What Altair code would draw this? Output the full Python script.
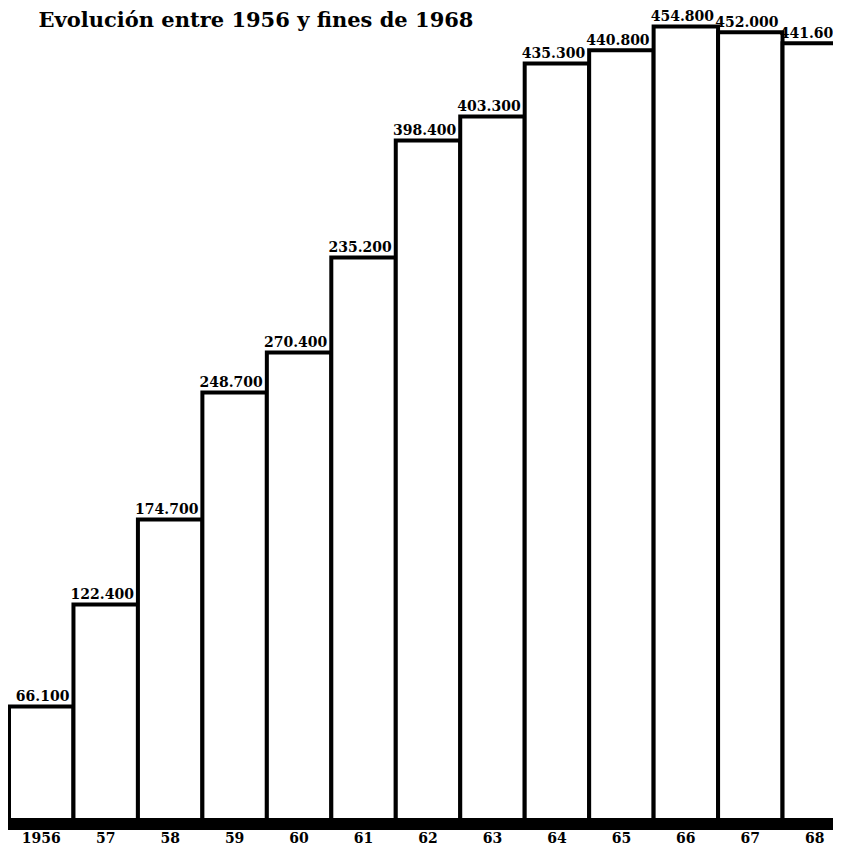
import altair as alt
import pandas as pd

years = ["1956", "57", "58", "59", "60", "61", "62", "63", "64", "65", "66", "67", "68"]
# bar heights (thousands) as drawn in the picture
heights = [66.1, 124.4, 173.0, 245.6, 268.5, 322.8, 389.7, 403.4, 433.7, 441.2, 454.9, 451.5, 445.2]
# printed labels above the bars
labels = ["66.100", "122.400", "174.700", "248.700", "270.400", "235.200", "398.400",
          "403.300", "435.300", "440.800", "454.800", "452.000", "441.600"]

df = pd.DataFrame({"year": years, "height": heights, "label": labels})

FONT = "DejaVu Serif"

x = alt.X("year:N", sort=years,
          scale=alt.Scale(range=[1, 839], paddingInner=0, paddingOuter=0),
          axis=alt.Axis(title=None, domain=False, ticks=False, labelAngle=0,
                        labelFont=FONT, labelFontSize=14, labelFontWeight="bold",
                        labelColor="black", labelPadding=9))
y = alt.Y("height:Q", scale=alt.Scale(domain=[0, 451.7], nice=False), axis=None)

bars = alt.Chart(df).mark_bar(fill="white", stroke="black", strokeWidth=4,
                              strokeJoin="miter").encode(x=x, y=y)

text = alt.Chart(df).mark_text(align="right", baseline="alphabetic", dx=-4, dy=-5,
                               font=FONT, fontSize=14, fontWeight="bold",
                               color="black").encode(
    x=alt.X("year:N", sort=years, bandPosition=1),
    y="height:Q",
    text="label:N")

base = alt.Chart(df).mark_rule(color="black", strokeWidth=11, yOffset=2).encode(
    y=alt.datum(0))

chart = alt.layer(bars, text, base).properties(
    width=825, height=790,
    padding={"left": 0, "right": 0, "top": 24, "bottom": 26},
    autosize=alt.AutoSizeParams(type="none"),
    background="white",
    title=alt.TitleParams("Evolución entre 1956 y fines de 1968", anchor="start",
                          dx=36, dy=27, offset=6, font=FONT, fontSize=21,
                          fontWeight="bold", color="black"),
).configure_view(stroke=None)

chart.save("out.html", embed_options={"renderer": "svg", "actions": False})
